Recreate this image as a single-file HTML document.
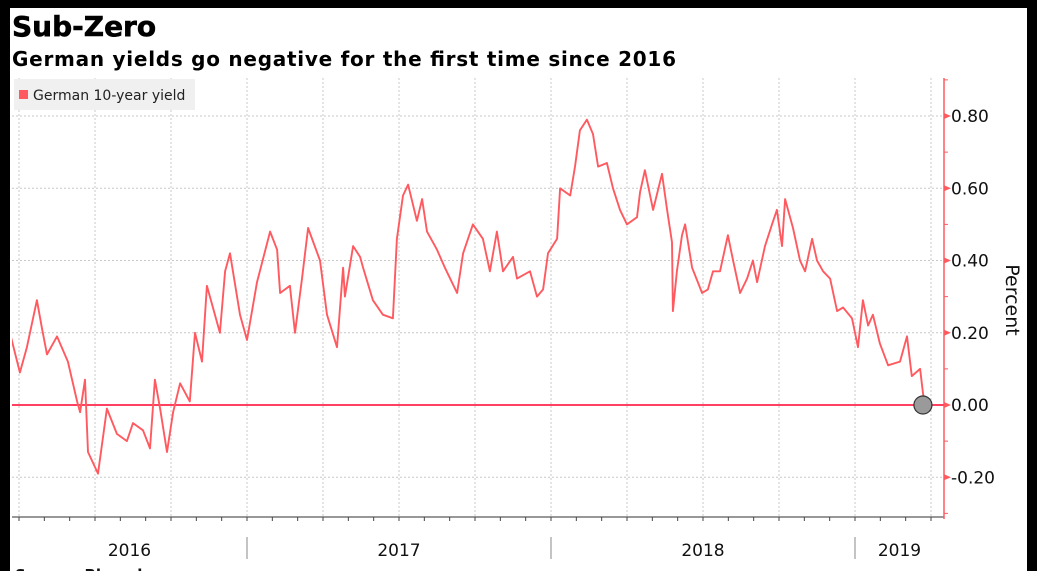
<!DOCTYPE html>
<html><head><meta charset="utf-8"><style>
html,body{margin:0;padding:0;background:#000;}
#wrap{position:relative;width:1037px;height:571px;overflow:hidden;background:#000;}
#panel{position:absolute;left:10px;top:8px;width:1017px;height:563px;background:#fff;}
svg text{font-family:"DejaVu Sans","Liberation Sans",sans-serif;}
</style></head><body>
<div id="wrap">
<div id="panel"></div>
<svg id="chart" width="1037" height="571" style="position:absolute;left:0;top:0">
<defs><clipPath id="plotclip"><rect x="12" y="78" width="932" height="440"></rect></clipPath></defs>
<text x="12" y="36" font-size="28" font-weight="bold" fill="#000" stroke="#000" stroke-width="0.6">Sub-Zero</text>
<text x="12" y="66" font-size="20" font-weight="bold" fill="#000" textLength="664">German yields go negative for the first time since 2016</text>
<g id="grid"></g>
<g id="xaxis"></g>
<g id="yaxis"></g>
<line x1="12" x2="944" y1="405" y2="405" stroke="#ff4060" stroke-width="2"></line>
<polyline id="series" clip-path="url(#plotclip)" fill="none" stroke="#ff5a60" stroke-width="1.9" stroke-linejoin="round"></polyline>
<circle id="endpoint" r="9" fill="#9a9a9a" stroke="#333" stroke-width="1.2"></circle>
<g>
<rect x="14" y="79" width="181" height="31" fill="#f0f0f0"></rect>
<rect x="19" y="90" width="9" height="9" fill="#ff5a60"></rect>
<text x="33" y="100" font-size="14" fill="#222">German 10-year yield</text>
</g>
<text x="1006" y="300" font-size="19" fill="#111" text-anchor="middle" transform="rotate(90 1006 300)">Percent</text>
<text x="15" y="580" font-size="15" font-weight="bold" fill="#111">Source: Bloomberg</text>
</svg>
</div>
<script>
const dates=[2016.220,2016.253,2016.276,2016.309,2016.326,2016.342,2016.375,2016.411,2016.441,2016.451,2016.467,2016.477,2016.510,2016.539,2016.572,2016.605,2016.625,2016.658,2016.681,2016.697,2016.714,2016.737,2016.757,2016.780,2016.812,2016.829,2016.852,2016.868,2016.911,2016.928,2016.944,2016.977,2017.000,2017.033,2017.076,2017.099,2017.109,2017.141,2017.158,2017.181,2017.201,2017.240,2017.263,2017.296,2017.316,2017.322,2017.349,2017.372,2017.382,2017.414,2017.447,2017.480,2017.493,2017.513,2017.530,2017.559,2017.576,2017.592,2017.625,2017.651,2017.691,2017.711,2017.743,2017.776,2017.799,2017.822,2017.842,2017.875,2017.888,2017.931,2017.954,2017.974,2017.990,2018.020,2018.030,2018.063,2018.079,2018.095,2018.118,2018.138,2018.155,2018.184,2018.204,2018.227,2018.250,2018.283,2018.293,2018.309,2018.336,2018.365,2018.382,2018.398,2018.401,2018.414,2018.431,2018.441,2018.464,2018.497,2018.516,2018.533,2018.556,2018.582,2018.599,2018.622,2018.645,2018.664,2018.678,2018.704,2018.727,2018.743,2018.760,2018.770,2018.796,2018.819,2018.836,2018.859,2018.875,2018.895,2018.918,2018.941,2018.961,2018.990,2019.010,2019.026,2019.043,2019.059,2019.082,2019.109,2019.148,2019.171,2019.187,2019.214,2019.224,2019.230];
const yields=[0.20,0.09,0.16,0.29,0.21,0.14,0.19,0.12,0.01,-0.02,0.07,-0.13,-0.19,-0.01,-0.08,-0.10,-0.05,-0.07,-0.12,0.07,-0.01,-0.13,-0.02,0.06,0.01,0.20,0.12,0.33,0.20,0.37,0.42,0.25,0.18,0.34,0.48,0.43,0.31,0.33,0.20,0.35,0.49,0.40,0.25,0.16,0.38,0.30,0.44,0.41,0.38,0.29,0.25,0.24,0.46,0.58,0.61,0.51,0.57,0.48,0.43,0.38,0.31,0.42,0.50,0.46,0.37,0.48,0.37,0.41,0.35,0.37,0.30,0.32,0.42,0.46,0.60,0.58,0.66,0.76,0.79,0.75,0.66,0.67,0.60,0.54,0.50,0.52,0.59,0.65,0.54,0.64,0.54,0.45,0.26,0.37,0.47,0.50,0.38,0.31,0.32,0.37,0.37,0.47,0.40,0.31,0.35,0.40,0.34,0.44,0.50,0.54,0.44,0.57,0.49,0.40,0.37,0.46,0.40,0.37,0.35,0.26,0.27,0.24,0.16,0.29,0.22,0.25,0.17,0.11,0.12,0.19,0.08,0.10,0.03,0.00];
const yTicks=[0.8,0.6,0.4,0.2,0,-0.2];
const yTickLabels=["0.80","0.60","0.40","0.20","0.00","-0.20"];
const yearLabels=["2016","2017","2018","2019"];
const yearStarts=[2016,2017,2018,2019];

const X0=247,PX_PER_YEAR=304,Y0=405,PX_PER_UNIT=361.25;
const PL=12,PR=944,PT=78,PB=517;
function xs(t){return X0+(t-2017)*PX_PER_YEAR;}
function ys(v){return Y0-v*PX_PER_UNIT;}
const NS="http://www.w3.org/2000/svg";
function mk(tag,attrs,parent){const e=document.createElementNS(NS,tag);for(const k in attrs)e.setAttribute(k,attrs[k]);parent.appendChild(e);return e;}
const grid=document.getElementById('grid'),xa=document.getElementById('xaxis'),ya=document.getElementById('yaxis');
yTicks.forEach((v,i)=>{
  if(v!==0){const g=mk('line',{x1:PL,x2:PR,y1:ys(v),y2:ys(v),stroke:'#c8c8c8','stroke-dasharray':'2,2'},grid);
  
  }
  const t=mk('text',{x:951,y:ys(v)+6,'font-size':17,fill:'#111'},ya);
  t.textContent=yTickLabels[i];
  
  
  const m=mk('path',{d:`M944 ${ys(v)-3} L951 ${ys(v)} L944 ${ys(v)+3}Z`,fill:'#ff5a60'},ya);
  
  
});
for(let v=-0.3;v<=0.9;v+=0.1){const yy=ys(v);const m=mk('line',{x1:944,x2:948,y1:yy,y2:yy,stroke:'#ff5a60'},ya);
  
  }
const ax=mk('line',{x1:944,x2:944,y1:PT,y2:PB+2,stroke:'#ff5a60','stroke-width':1.5},ya);


for(let q=2016.25;q<=2019.25;q+=0.25){const x=xs(q);
  const g=mk('line',{x1:x,x2:x,y1:PT,y2:PB,stroke:'#c8c8c8','stroke-dasharray':'2,2'},grid);
  
  }
const xl=mk('line',{x1:PL,x2:PR,y1:PB,y2:PB,stroke:'#777','stroke-width':1.5},xa);


for(let m=0;m<=38;m++){const x=xs(2016.25+m/12);if(x<PL||x>PR)continue;
  const t=mk('line',{x1:x,x2:x,y1:PB,y2:PB+4,stroke:'#444'},xa);
  
  }
yearStarts.forEach((yr,i)=>{
  const a=Math.max(PL,xs(yr)),b=Math.min(PR,xs(yr+1));
  const t=mk('text',{x:(a+b)/2,y:556,'font-size':17,fill:'#111','text-anchor':'middle'},xa);
  t.textContent=yearLabels[i];
  
  
  if(i>0){const s=mk('line',{x1:xs(yr),x2:xs(yr),y1:537,y2:559,stroke:'#888'},xa);
    
    }
});
document.getElementById('series').setAttribute('points',dates.map((d,i)=>xs(d).toFixed(1)+','+ys(yields[i]).toFixed(1)).join(' '));
const ep=document.getElementById('endpoint');
ep.setAttribute('cx',xs(dates[dates.length-1])-2);
ep.setAttribute('cy',ys(yields[yields.length-1]));
</script>
</body></html>
